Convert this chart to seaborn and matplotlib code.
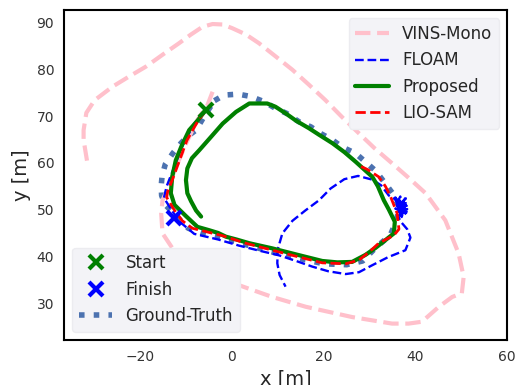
import numpy as np
import pandas as pd
import matplotlib
matplotlib.use("Agg")
import matplotlib.pyplot as plt
import seaborn as sns

# trajectories (x, y in metres)
vins_x = [-4.2, -5.3, -7.5, -9.8, -12.0, -14.0, -15.1, -15.4, -15.1, -13.0, -10.7, -5.7, 1.6, 8.8,
          16.1, 26.2, 34.9, 38.5, 41.4, 45.1, 48.0, 50.1, 50.5, 49.4, 46.5, 42.2, 38.5, 34.9, 31.0,
          27.7, 24.0, 20.4, 16.8, 13.2, 9.5, 5.9, 3.0, 0.1, -2.0, -4.2, -6.4, -9.0, -11.5, -15.0,
          -18.7, -22.5, -26.0, -29.9, -31.7, -32.3, -32.3, -31.4]
vins_y = [75.2, 72.4, 69.2, 64.5, 59.5, 54.5, 52.0, 49.2, 44.9, 41.8, 39.2, 36.7, 33.8, 31.3,
          29.2, 27.0, 25.6, 25.6, 26.0, 29.2, 31.3, 32.1, 35.6, 40.6, 47.7, 53.5, 56.8, 59.9, 63.2,
          66.3, 69.8, 73.4, 76.7, 79.9, 82.8, 85.6, 87.5, 88.8, 89.6, 89.7, 89.1, 87.4, 85.6, 83.2,
          80.6, 78.4, 76.3, 73.4, 70.7, 67.0, 64.9, 59.5]

floam_x = [-5.9, -8.2, -10.6, -12.6, -14.2, -14.8, -13.2, -11.5, -8.2, -3.0, 1.5, 6.0, 10.3, 14.0,
           17.5, 21.0, 24.8, 27.7, 30.6, 34.0, 37.8, 38.9, 38.2, 36.8,
           36.2, 37.4, 35.6, 38.1, 36.0, 37.6, 36.4, 38.3, 35.8, 37.0, 38.0, 36.6, 35.6,
           37.2, 36.0, 38.2, 36.8, 35.9, 37.9, 36.3, 37.5, 36.9, 38.0, 35.7, 36.7, 37.3, 35.4,
           34.2, 32.5, 30.6, 27.5, 24.5, 21.5, 19.0, 16.0, 13.2, 11.0, 10.0, 9.9, 10.4, 11.7]
floam_y = [71.0, 68.4, 64.0, 59.0, 55.0, 52.5, 50.0, 47.5, 44.8, 43.6, 42.3, 41.2, 40.2, 39.0,
           37.8, 36.8, 36.2, 36.6, 38.1, 39.8, 41.3, 44.0, 45.8, 47.4,
           48.6, 49.5, 50.2, 50.8, 51.6, 52.3, 50.0, 49.4, 52.0, 48.4, 51.9, 51.0, 52.6,
           50.6, 49.2, 50.1, 48.9, 51.2, 52.4, 50.5, 51.4, 49.9, 49.0, 51.0, 52.8, 50.3, 52.3,
           53.0, 55.2, 56.4, 57.2, 56.5, 54.5, 52.0, 49.8, 47.6, 44.9, 41.5, 38.5, 36.0, 33.5]

prop_x = [-5.7, -7.5, -9.3, -11.0, -12.2, -13.0, -13.3, -12.5, -10.0, -7.5, -5.0, -3.0, -1.3, 1.0,
          3.8, 8.8, 14.0, 19.7, 23.0, 26.2, 29.1, 31.3, 33.5, 35.3, 35.5, 34.2, 33.1, 31.8, 30.6,
          27.0, 24.5, 21.9, 19.0, 16.8, 14.0, 11.7, 9.5, 7.7, 3.8, 0.9, -2.0, -4.5, -7.1, -8.7,
          -9.7, -10.0, -9.7, -8.9, -7.8, -6.7]
prop_y = [71.3, 69.0, 67.0, 63.5, 60.6, 57.0, 53.5, 51.0, 48.6, 46.3, 45.6, 45.0, 44.2, 43.6,
          42.8, 41.7, 40.4, 39.0, 38.7, 38.8, 40.3, 41.8, 43.5, 44.9, 47.4, 50.0, 52.0, 55.0, 57.0,
          60.2, 62.3, 64.2, 66.0, 67.4, 69.0, 70.6, 72.0, 72.7, 72.7, 70.9, 68.4, 65.6, 62.7, 61.0,
          58.8, 56.3, 53.5, 51.8, 49.8, 48.5]

lio_x = [-5.7, -7.6, -9.8, -11.6, -12.8, -14.0, -14.2, -12.6, -10.8, -8.6, -4.5, -2.0, 3.0, 8.8,
         14.0, 19.7, 24.8, 27.7, 30.0, 32.0, 35.3, 36.4, 36.0, 34.6, 33.5, 32.0, 29.5, 27.3]
lio_y = [71.3, 68.6, 64.8, 60.0, 56.8, 53.8, 52.6, 50.0, 47.6, 46.0, 45.0, 44.4, 42.8, 41.3,
         40.0, 38.6, 38.4, 39.2, 41.0, 42.8, 44.5, 45.8, 49.2, 52.7, 54.9, 57.0, 58.6, 59.6]

gt_x = [-3.8, -1.7, 1.4, 4.1, 7.0, 9.6, 11.9, 14.6, 17.2, 19.3, 21.9, 24.0, 27.0, 29.1, 31.3,
        33.1, 35.0, 36.5, 35.8, 34.5, 31.5, 28.5, 25.0, 20.0, 14.0, 8.5, 3.0, -2.0, -6.0, -9.5,
        -12.0, -14.5, -15.3, -15.4, -15.2, -14.5, -12.9, -11.1, -9.5, -7.8, -6.0, -3.8]
gt_y = [73.3, 74.5, 74.7, 74.2, 73.1, 71.6, 70.6, 68.8, 67.7, 66.3, 64.9, 63.4, 62.0, 60.2, 58.3,
        56.0, 53.5, 50.5, 47.5, 44.5, 42.0, 39.0, 38.2, 38.4, 39.7, 41.0, 42.5, 43.9, 44.8, 46.0,
        48.5, 51.0, 53.0, 55.0, 57.2, 59.7, 62.0, 64.2, 65.8, 67.0, 70.0, 73.3]

start_xy = (-5.7, 71.3)
finish_xy = (-12.5, 48.1)

x_ticks = [-20, 0, 20, 40, 60]
y_ticks = [30, 40, 50, 60, 70, 80, 90]

sns.set_style("white")
fig, ax = plt.subplots(figsize=(5.15, 3.85), dpi=100)
fig.subplots_adjust(left=0.124, right=0.985, top=0.974, bottom=0.117)


def path(xs, ys, **kws):
    df = pd.DataFrame({"x": xs, "y": ys})
    sns.lineplot(data=df, x="x", y="y", sort=False, estimator=None, ax=ax, **kws)


path(gt_x, gt_y, color="#4C72B0", linestyle=":", linewidth=4, label="Ground-Truth")
path(vins_x, vins_y, color="pink", linestyle="--", linewidth=3, label="VINS-Mono")
path(floam_x, floam_y, color="blue", linestyle="--", linewidth=1.7, label="FLOAM")
path(prop_x, prop_y, color="green", linestyle="-", linewidth=3, label="Proposed")
path(lio_x, lio_y, color="red", linestyle="--", linewidth=2, label="LIO-SAM")

ax.plot(*start_xy, "x", color="green", markersize=10, markeredgewidth=3, label="Start", zorder=5)
ax.plot(*finish_xy, "x", color="blue", markersize=10, markeredgewidth=3, label="Finish", zorder=5)

ax.set_xlim(-36.6, 60)
ax.set_ylim(22.1, 92.7)
ax.set_xticks(x_ticks)
ax.set_yticks(y_ticks)
ax.tick_params(labelsize=10, labelcolor="#333333")
ax.set_xlabel("x [m]", fontsize=14)
ax.set_ylabel("y [m]", fontsize=14)
for sp in ax.spines.values():
    sp.set_color("black")
    sp.set_linewidth(1.5)

lines = {l.get_label(): l for l in ax.get_lines()}
leg_style = dict(fontsize=12, facecolor="#F3F3F7", edgecolor="#ECECF0", framealpha=1.0)
leg1 = ax.legend(handles=[lines[k] for k in ["VINS-Mono", "FLOAM", "Proposed", "LIO-SAM"]],
                 loc="upper right", **leg_style)
ax.add_artist(leg1)
ax.legend(handles=[lines[k] for k in ["Start", "Finish", "Ground-Truth"]],
          loc="lower left", **leg_style)

fig.savefig("out.png", dpi=100)
